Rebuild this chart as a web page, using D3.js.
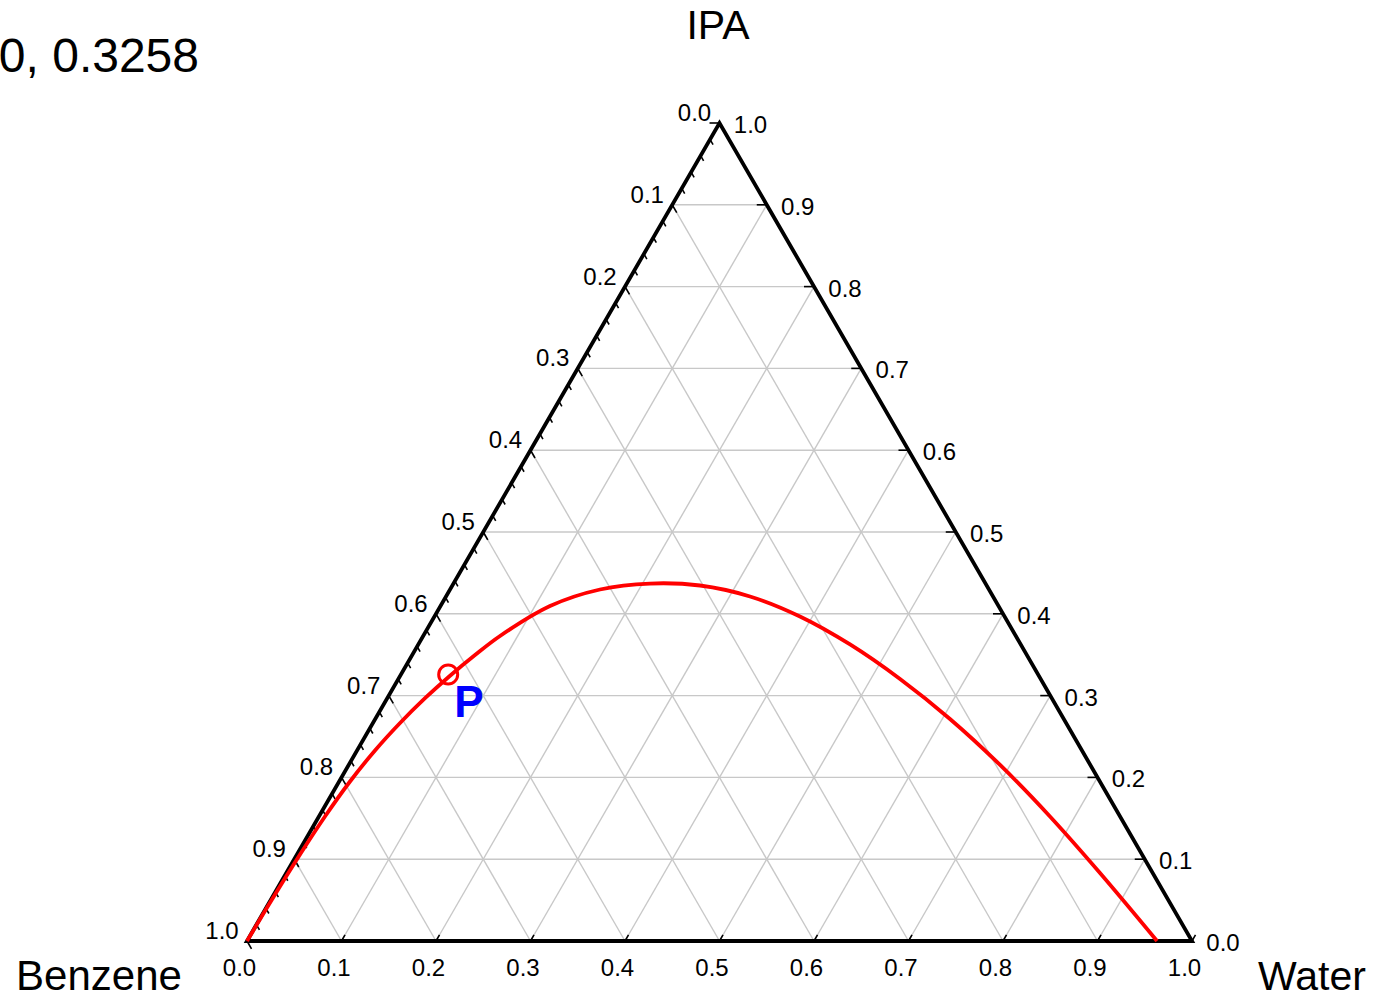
<!DOCTYPE html>
<html>
<head>
<meta charset="utf-8">
<script src="https://cdn.jsdelivr.net/npm/d3@7"></script>
<style>
  html, body { margin: 0; padding: 0; background: #fff; overflow: hidden; }
  svg { display: block; font-family: "Liberation Sans", Arial, sans-serif; }
</style>
</head>
<body>
<svg id="chart" width="1377" height="998"></svg>
<script>
// ---- data ----
const vertexLabels = ["Benzene", "Water", "IPA"];   // bottom-left, bottom-right, top
const titleText = "0, 0.3258";
const gridValues = [0.1, 0.2, 0.3, 0.4, 0.5, 0.6, 0.7, 0.8, 0.9];
const tickValues = [0.0, 0.1, 0.2, 0.3, 0.4, 0.5, 0.6, 0.7, 0.8, 0.9, 1.0];
const tickLabels = ["0.0", "0.1", "0.2", "0.3", "0.4", "0.5", "0.6", "0.7", "0.8", "0.9", "1.0"];
const minorTickValues = d3.range(0, 51).map(k => k / 50);   // benzene axis minor ticks
// binodal curve (mass fractions)
const curveWater = [0.0000, 0.0012, 0.0032, 0.0064, 0.0115, 0.0190, 0.0287, 0.0400, 0.0527, 0.0665, 0.0813, 0.1159, 0.1587, 0.2079, 0.2621, 0.3217, 0.3868, 0.4569, 0.5309, 0.6082, 0.6893, 0.7736, 0.8611, 0.9630];
const curveIPA   = [0.0000, 0.0569, 0.1058, 0.1522, 0.1950, 0.2329, 0.2665, 0.2968, 0.3243, 0.3496, 0.3729, 0.4095, 0.4297, 0.4370, 0.4346, 0.4212, 0.3967, 0.3625, 0.3203, 0.2714, 0.2152, 0.1522, 0.0831, 0.0000];
// point P
const pointWater = 0.0500;
const pointIPA = 0.3258;
const pointLabel = "P";

// ---- layout ----
const svg = d3.select("#chart");
const X0 = 247, X1 = 1192, YB = 941, YT = 123;
const sx = d3.scaleLinear().domain([0, 1]).range([X0, X1]);   // horizontal: water + ipa/2
const sy = d3.scaleLinear().domain([0, 1]).range([YB, YT]);   // vertical: ipa
const P = (w, i) => [sx(w + i / 2), sy(i)];

// grid
const gridG = svg.append("g").attr("stroke", "#c8c8c8").attr("stroke-width", 1.4).attr("fill", "none");
gridValues.forEach(v => {
  let a = P(0, v), b = P(1 - v, v);                 // constant IPA
  gridG.append("line").attr("x1", a[0]).attr("y1", a[1]).attr("x2", b[0]).attr("y2", b[1]);
  a = P(0, 1 - v); b = P(1 - v, 0);                 // constant benzene
  gridG.append("line").attr("x1", a[0]).attr("y1", a[1]).attr("x2", b[0]).attr("y2", b[1]);
  a = P(v, 0); b = P(v, 1 - v);                     // constant water
  gridG.append("line").attr("x1", a[0]).attr("y1", a[1]).attr("x2", b[0]).attr("y2", b[1]);
});

// ticks
const tickG = svg.append("g").attr("stroke", "#000").attr("stroke-width", 1.6);
const c60 = 0.5, s60 = Math.sqrt(3) / 2;
minorTickValues.forEach((v, k) => {
  const p = P(0, 1 - v);
  const len = (k % 5 === 0) ? 9 : 6;
  tickG.append("line").attr("x1", p[0]).attr("y1", p[1])
    .attr("x2", p[0] + len * c60).attr("y2", p[1] + len * s60);
});
tickValues.forEach(v => {
  const p = P(1 - v, v);
  tickG.append("line").attr("x1", p[0]).attr("y1", p[1]).attr("x2", p[0] - 10).attr("y2", p[1]);
});
tickValues.forEach(v => {
  const p = P(v, 0);
  tickG.append("line").attr("x1", p[0]).attr("y1", p[1])
    .attr("x2", p[0] + 7 * c60).attr("y2", p[1] - 7 * s60);
});

// triangle edges
const A = P(0, 0), B = P(1, 0), C = P(0, 1);
svg.append("path")
  .attr("d", `M${A[0]},${A[1]}L${B[0]},${B[1]}L${C[0]},${C[1]}Z`)
  .attr("fill", "none").attr("stroke", "#000").attr("stroke-width", 3.8)
  .attr("stroke-linejoin", "miter");

// tick labels
const lblG = svg.append("g").attr("font-size", 24).attr("fill", "#000").attr("text-anchor", "middle");
tickValues.forEach((v, k) => {
  let p = P(0, 1 - v);
  lblG.append("text").attr("x", p[0] - 25).attr("y", p[1] - 2).text(tickLabels[k]);
  p = P(1 - v, v);
  lblG.append("text").attr("x", p[0] + 31).attr("y", p[1] + 10).text(tickLabels[k]);
  p = P(v, 0);
  lblG.append("text").attr("x", p[0] - 7.5).attr("y", p[1] + 35).text(tickLabels[k]);
});

// vertex labels
svg.append("text").attr("x", 99).attr("y", 990).attr("text-anchor", "middle")
  .attr("font-size", 42).text(vertexLabels[0]);
svg.append("text").attr("x", 1312).attr("y", 990).attr("text-anchor", "middle")
  .attr("font-size", 41).text(vertexLabels[1]);
svg.append("text").attr("x", 718).attr("y", 39).attr("text-anchor", "middle")
  .attr("font-size", 41).text(vertexLabels[2]);

// title (partially clipped at left)
svg.append("text").attr("x", 199).attr("y", 72).attr("text-anchor", "end")
  .attr("font-size", 48).text(titleText);

// binodal curve
const curvePts = curveWater.map((w, k) => P(w, curveIPA[k]));
svg.append("path")
  .attr("d", d3.line().curve(d3.curveCatmullRom.alpha(0.5))(curvePts))
  .attr("fill", "none").attr("stroke", "#ff0000").attr("stroke-width", 3.8);

// point P
const pp = P(pointWater, pointIPA);
svg.append("circle").attr("cx", pp[0]).attr("cy", pp[1]).attr("r", 9.5)
  .attr("fill", "none").attr("stroke", "#ff0000").attr("stroke-width", 3);
svg.append("text").attr("x", pp[0] + 6).attr("y", pp[1] + 43)
  .attr("font-size", 44).attr("font-weight", "bold").attr("fill", "#0000ff").text(pointLabel);
</script>
</body>
</html>
